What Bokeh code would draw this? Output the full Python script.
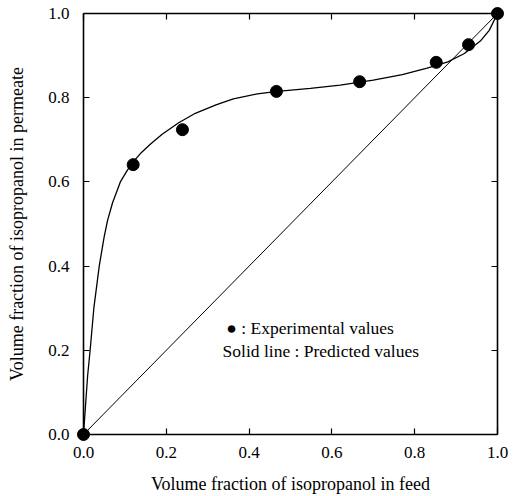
from bokeh.plotting import figure
from bokeh.models import LinearAxis, Range1d, Label, FixedTicker
from bokeh.embed import file_html
from bokeh.resources import INLINE

# Experimental values
exp_x = [0.0, 0.12, 0.239, 0.466, 0.667, 0.852, 0.930, 1.0]
exp_y = [0.0, 0.641, 0.724, 0.815, 0.838, 0.884, 0.926, 1.0]

# Predicted (solid line)
pred_x = [0.0, 0.005, 0.01, 0.016, 0.025, 0.038, 0.05, 0.058, 0.07, 0.089, 0.105,
          0.117, 0.14, 0.162, 0.19, 0.229, 0.27, 0.32, 0.362, 0.42, 0.468, 0.548,
          0.62, 0.7, 0.77, 0.83, 0.88, 0.92, 0.96, 0.98, 1.0]
pred_y = [0.0, 0.07, 0.14, 0.2, 0.3, 0.4, 0.47, 0.508, 0.55, 0.6, 0.626,
          0.644, 0.670, 0.690, 0.713, 0.74, 0.763, 0.783, 0.797, 0.809, 0.815, 0.822,
          0.83, 0.842, 0.855, 0.87, 0.885, 0.905, 0.936, 0.96, 1.0]

# Diagonal (y = x)
diag_x = [0.0, 1.0]
diag_y = [0.0, 1.0]

ticks = [0.0, 0.2, 0.4, 0.6, 0.8, 1.0]
tick_labels = {0.0: "0.0", 0.2: "0.2", 0.4: "0.4", 0.6: "0.6", 0.8: "0.8", 1.0: "1.0"}

FONT = "Liberation Serif"

# small padding so the end markers at (0,0) and (1,1) are not clipped
PADX = 8 / 414
PADY = 8 / 421

p = figure(width=516, height=496, output_backend="svg", toolbar_location=None,
           x_range=Range1d(-PADX, 1 + PADX), y_range=Range1d(-PADY, 1 + PADY),
           min_border_left=75, min_border_right=11, min_border_top=5, min_border_bottom=54,
           x_axis_location=None, y_axis_location=None)
p.grid.visible = False
p.outline_line_color = None
p.background_fill_color = "white"
p.border_fill_color = "white"

def frame_axis(ax):
    # axis line + inward ticks drawn exactly at data 0 / 1
    ax.ticker = FixedTicker(ticks=ticks)
    ax.bounds = (0, 1)
    ax.major_tick_in = 6
    ax.major_tick_out = 0
    ax.minor_tick_line_color = None
    ax.axis_line_color = "black"
    ax.axis_line_width = 1.6
    ax.major_tick_line_color = "black"
    ax.major_tick_line_width = 1.2
    ax.major_label_text_font_size = "0px"
    ax.major_label_text_color = None

def label_axis(ax):
    # tick labels and axis title (no line / ticks)
    ax.ticker = FixedTicker(ticks=ticks)
    ax.major_tick_in = 0
    ax.major_tick_out = 0
    ax.minor_tick_in = 0
    ax.minor_tick_out = 0
    ax.minor_tick_line_color = None
    ax.major_tick_line_color = None
    ax.axis_line_color = None
    ax.major_label_text_font = FONT
    ax.major_label_text_font_size = "17px"
    ax.major_label_text_color = "black"
    ax.major_label_overrides = tick_labels
    ax.axis_label_text_font = FONT
    ax.axis_label_text_font_size = "18px"
    ax.axis_label_text_font_style = "normal"
    ax.axis_label_text_color = "black"

xlab = LinearAxis(axis_label="Volume fraction of isopropanol in feed")
ylab = LinearAxis(axis_label="Volume fraction of isopropanol in permeate")
label_axis(xlab)
label_axis(ylab)
xlab.major_label_standoff = 4
xlab.axis_label_standoff = 13
ylab.major_label_standoff = 6
ylab.axis_label_standoff = 18
p.add_layout(xlab, "below")
p.add_layout(ylab, "left")

for loc, side in [(0, "below"), (0, "left"), (1, "above"), (1, "right")]:
    ax = LinearAxis(fixed_location=loc)
    frame_axis(ax)
    p.add_layout(ax, side)

p.line(diag_x, diag_y, line_color="black", line_width=1.0)
p.line(pred_x, pred_y, line_color="black", line_width=1.3)
p.scatter(exp_x, exp_y, size=12, fill_color="black", line_color="black")

p.add_layout(Label(x=0.345, y=0.254, text="\u25cf : Experimental values",
                   text_font=FONT, text_font_size="17.5px", text_baseline="middle",
                   text_color="black"))
p.add_layout(Label(x=0.336, y=0.199, text="Solid line : Predicted values",
                   text_font=FONT, text_font_size="17.5px", text_baseline="middle",
                   text_color="black"))

open("out.html", "w").write(file_html(p, INLINE))
